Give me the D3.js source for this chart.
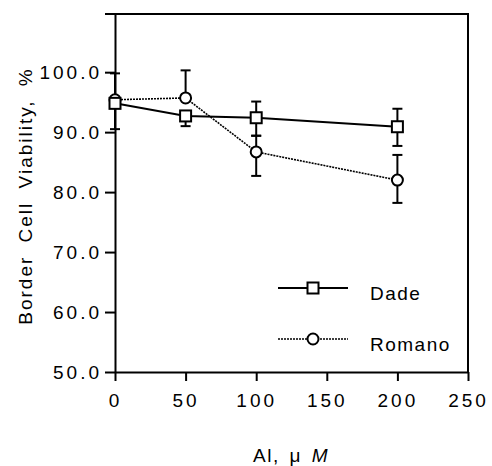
<!DOCTYPE html>
<html>
<head>
<meta charset="utf-8">
<script src="https://cdn.jsdelivr.net/npm/d3@7"></script>
<style>
	body { margin: 0; background: #fff; }
	text { font-family: "Liberation Sans", Arial, sans-serif; fill: #000; }
	.tick text { font-size: 19px; letter-spacing: 3px; }
	.axis path, .axis line { stroke: #000; stroke-width: 2; }
</style>
</head>
<body>
<script>
// - data -

var doses = [0, 50, 100, 200];
var dade = [94.8, 92.7, 92.4, 90.9];
var dadeErrUp = [0, 0, 2.7, 3.0];
var dadeErrDown = [4.3, 1.7, 3.0, 3.2];
var romano = [95.4, 95.7, 86.7, 82.0];
var romanoErrUp = [4.4, 4.6, 2.7, 4.2];
var romanoErrDown = [0, 0, 4.0, 3.8];
var xTicks = [0, 50, 100, 150, 200, 250];
var yTicks = [50, 60, 70, 80, 90, 100];

// - global -

var width = 492;
var height = 466;

var svg = d3.select('body').append('svg')
	.attr('width', width)
	.attr('height', height);

var x = d3.scaleLinear().domain([0, 250]).range([115, 468]);
var y = d3.scaleLinear().domain([50, 109.7]).range([372, 14]);

// frame: top and right borders
svg.append('line')
	.attr('x1', x(0) - 10).attr('x2', x(250) + 1)
	.attr('y1', y(109.7)).attr('y2', y(109.7))
	.attr('stroke', '#000').attr('stroke-width', 2);
svg.append('line')
	.attr('x1', x(250)).attr('x2', x(250))
	.attr('y1', y(109.7)).attr('y2', y(50))
	.attr('stroke', '#000').attr('stroke-width', 2);

// axes
svg.append('g')
	.attr('class', 'axis')
	.attr('transform', 'translate(0,' + y(50) + ')')
	.call(d3.axisBottom(x).tickValues(xTicks).tickSize(9).tickSizeOuter(0).tickPadding(13).tickFormat(d3.format('d')));

svg.append('g')
	.attr('class', 'axis')
	.attr('transform', 'translate(' + x(0) + ',0)')
	.call(d3.axisLeft(y).tickValues(yTicks).tickSize(10).tickSizeOuter(0).tickPadding(3).tickFormat(d3.format('.1f')));

svg.selectAll('.axis .domain').attr('d', function() {
	return d3.select(this).attr('d');
});

// - series -

function drawSeries(values, errUp, errDown, dash, width, marker) {
	var pts = doses.map(function(d, i) {
		return { x: d, v: values[i], up: errUp[i], down: errDown[i] };
	});
	var g = svg.append('g');

	// error bars
	pts.forEach(function(p) {
		[[p.up, 1], [p.down, -1]].forEach(function(e) {
			if (!e[0]) return;
			var yEnd = y(p.v + e[1] * e[0]);
			g.append('line')
				.attr('x1', x(p.x)).attr('x2', x(p.x))
				.attr('y1', y(p.v)).attr('y2', yEnd)
				.attr('stroke', '#000').attr('stroke-width', 2);
			g.append('line')
				.attr('x1', x(p.x) - 5).attr('x2', x(p.x) + 5)
				.attr('y1', yEnd).attr('y2', yEnd)
				.attr('stroke', '#000').attr('stroke-width', 2);
		});
	});

	g.append('path')
		.datum(pts)
		.attr('d', d3.line().x(function(p) { return x(p.x); }).y(function(p) { return y(p.v); }))
		.attr('fill', 'none')
		.attr('stroke', '#000')
		.attr('stroke-width', width)
		.attr('stroke-dasharray', dash);

	pts.forEach(function(p) { marker(g, x(p.x), y(p.v)); });
}

function square(g, cx, cy) {
	g.append('rect')
		.attr('x', cx - 5.5).attr('y', cy - 5.5)
		.attr('width', 11).attr('height', 11)
		.attr('fill', '#fff').attr('stroke', '#000').attr('stroke-width', 2);
}

function circle(g, cx, cy) {
	g.append('circle')
		.attr('cx', cx).attr('cy', cy).attr('r', 5.5)
		.attr('fill', '#fff').attr('stroke', '#000').attr('stroke-width', 2);
}

drawSeries(romano, romanoErrUp, romanoErrDown, '2,1', 1.6, circle);
drawSeries(dade, dadeErrUp, dadeErrDown, null, 2, square);

// - legend -

var legend = [
	{ name: 'Dade', dash: null, w: 2, marker: square, y: 288 },
	{ name: 'Romano', dash: '2,1', w: 1.6, marker: circle, y: 339 }
];

legend.forEach(function(l) {
	var g = svg.append('g');
	g.append('line')
		.attr('x1', 278).attr('x2', 348)
		.attr('y1', l.y).attr('y2', l.y)
		.attr('stroke', '#000').attr('stroke-width', l.w)
		.attr('stroke-dasharray', l.dash);
	l.marker(g, 313, l.y);
	g.append('text')
		.attr('x', 370).attr('y', l.y + 12)
		.style('font-size', '19px')
		.style('letter-spacing', '1.5px')
		.text(l.name);
});

// - axis titles -

svg.append('text')
	.attr('transform', 'translate(32,' + 196 + ') rotate(-90)')
	.attr('text-anchor', 'middle')
	.style('font-size', '19px')
	.style('letter-spacing', '2px')
	.style('word-spacing', '6px')
	.text('Border Cell Viability, %');

var xt = svg.append('text')
	.attr('x', 291).attr('y', 462)
	.attr('text-anchor', 'middle')
	.style('font-size', '19px')
	.style('letter-spacing', '1.5px')
	.style('word-spacing', '3px');
xt.append('tspan').text('Al, μ ');
xt.append('tspan').style('font-style', 'italic').text('M');
</script>
</body>
</html>
